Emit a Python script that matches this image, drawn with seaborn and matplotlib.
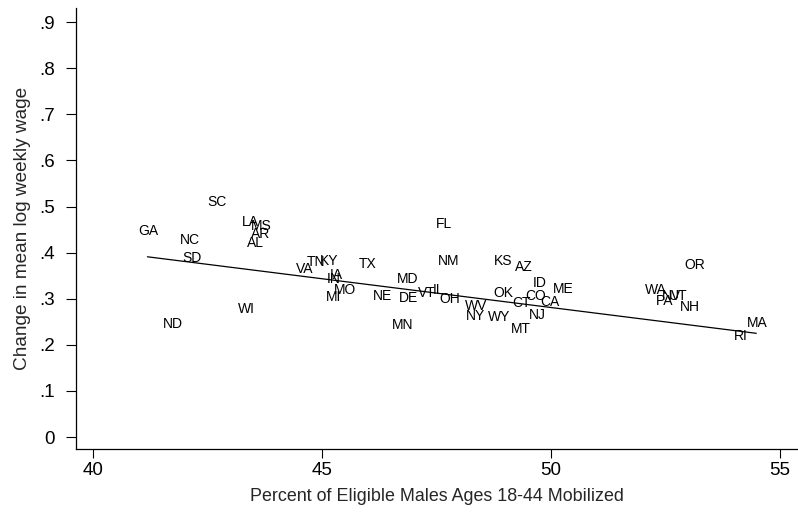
import matplotlib
matplotlib.use("Agg")
import matplotlib.pyplot as plt
import seaborn as sns
import pandas as pd
from matplotlib.ticker import FuncFormatter

# Dados: estado, % mobilizados, variação no log do salário semanal
states = ["GA", "SC", "NC", "SD", "LA", "MS", "AR", "AL", "ND", "WI",
          "VA", "TN", "KY", "IA", "IN", "MO", "MI", "TX", "MD", "NE",
          "DE", "MN", "VT", "IL", "OH", "NM", "FL", "KS", "AZ", "OK",
          "WV", "NY", "WY", "CT", "MT", "CO", "ID", "CA", "ME", "NJ",
          "OR", "WA", "PA", "NV", "UT", "NH", "MA", "RI"]
mobilized = [41.20, 42.70, 42.12, 42.16, 43.43, 43.67, 43.65, 43.54, 41.75, 43.34,
             44.63, 44.86, 45.16, 45.31, 45.26, 45.50, 45.25, 45.99, 46.87, 46.33,
             46.88, 46.76, 47.29, 47.54, 47.78, 47.77, 47.66, 48.95, 49.41, 48.95,
             48.36, 48.36, 48.86, 49.36, 49.34, 49.67, 49.76, 49.98, 50.26, 49.71,
             53.14, 52.29, 52.47, 52.62, 52.77, 53.02, 54.49, 54.14]
wage_change = [0.447, 0.510, 0.427, 0.388, 0.466, 0.458, 0.440, 0.421, 0.245, 0.277,
               0.364, 0.380, 0.382, 0.351, 0.343, 0.319, 0.304, 0.375, 0.342, 0.306,
               0.301, 0.244, 0.312, 0.320, 0.299, 0.382, 0.462, 0.382, 0.368, 0.312,
               0.284, 0.262, 0.260, 0.290, 0.234, 0.306, 0.335, 0.293, 0.322, 0.265,
               0.373, 0.319, 0.295, 0.306, 0.306, 0.281, 0.248, 0.220]

# reta ajustada (ponderada no original)
fit_x = [41.19, 54.48]
fit_y = [0.391, 0.225]

df = pd.DataFrame({"state": states, "mob": mobilized, "wage": wage_change})

sns.set_style("white")
plt.rcParams["font.family"] = ["Liberation Sans", "DejaVu Sans"]

fig = plt.figure(figsize=(7.98, 5.2), dpi=100)
ax = fig.add_axes([0.0952, 0.1365, 0.9048, 0.8475])

sns.lineplot(x=fit_x, y=fit_y, color="black", linewidth=0.9, ax=ax)

# rótulos dos estados no lugar dos pontos
for _, r in df.iterrows():
    ax.text(r["mob"], r["wage"], r["state"], ha="center", va="center",
            fontsize=10, color="black")

ax.set_xlim(39.63, 55.39)
ax.set_ylim(-0.026, 0.93)
ax.set_xticks([40, 45, 50, 55])
ax.set_yticks([0, 0.1, 0.2, 0.3, 0.4, 0.5, 0.6, 0.7, 0.8, 0.9])
ax.yaxis.set_major_formatter(FuncFormatter(lambda v, p: "0" if v == 0 else ("%.1f" % v).lstrip("0")))

sns.despine(ax=ax)
for s in ["left", "bottom"]:
    ax.spines[s].set_color("black")
    ax.spines[s].set_linewidth(0.9)
ax.tick_params(axis="both", direction="out", width=0.8, colors="black",
               labelsize=13.5, left=True, bottom=True)
ax.tick_params(axis="y", length=7, pad=8)
ax.tick_params(axis="x", length=6.5, pad=3)

ax.set_xlabel("Percent of Eligible Males Ages 18-44 Mobilized", fontsize=12.9, labelpad=6)
ax.set_ylabel("Change in mean log weekly wage", fontsize=13.7, labelpad=6)

fig.savefig("out.png", dpi=100)
